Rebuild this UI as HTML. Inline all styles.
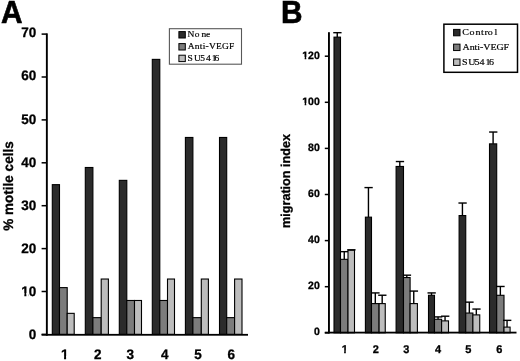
<!DOCTYPE html>
<html><head><meta charset="utf-8"><title>Figure</title>
<style>
html,body{margin:0;padding:0;background:#fff;}
body{width:520px;height:361px;overflow:hidden;}
svg{display:block;}
.ax{font-family:"Liberation Sans",Arial,sans-serif;font-weight:bold;fill:#000;stroke:#000;stroke-width:0.3px;text-rendering:geometricPrecision;}
.pl{font-family:"Liberation Sans",Arial,sans-serif;font-weight:bold;font-size:29.8px;fill:#000;stroke:#000;stroke-width:0.6px;}
.lg{font-family:"Liberation Serif","Times New Roman",serif;fill:#000;stroke:#000;stroke-width:0.2px;}
</style></head>
<body>
<svg width="520" height="361" viewBox="0 0 520 361">
<rect width="520" height="361" fill="#fff"/>
<text transform="translate(0.90,22.80) scale(1,1.03)" class="pl">A</text>
<text transform="translate(12.90,186.00) rotate(-90) scale(1,1.02)" text-anchor="middle" class="ax" font-size="13.5">% motile cells</text>
<rect x="41.6" y="333.65" width="5" height="1.5" fill="#000"/>
<text transform="translate(36.30,339.00) scale(1,1.02)" text-anchor="end" class="ax" font-size="13.5">0</text>
<rect x="41.6" y="290.75" width="5" height="1.5" fill="#000"/>
<g transform="translate(36.30,295.90) scale(1,1.02)"><text text-anchor="end" class="ax" font-size="13.5">10</text><rect x="-15.82" y="-2.83" width="3.86" height="4.59" fill="#fff"/><rect x="-9.91" y="-2.83" width="2.25" height="4.59" fill="#fff"/></g>
<rect x="41.6" y="247.85" width="5" height="1.5" fill="#000"/>
<text transform="translate(36.30,252.80) scale(1,1.02)" text-anchor="end" class="ax" font-size="13.5">20</text>
<rect x="41.6" y="204.95" width="5" height="1.5" fill="#000"/>
<text transform="translate(36.30,209.70) scale(1,1.02)" text-anchor="end" class="ax" font-size="13.5">30</text>
<rect x="41.6" y="162.05" width="5" height="1.5" fill="#000"/>
<text transform="translate(36.30,166.60) scale(1,1.02)" text-anchor="end" class="ax" font-size="13.5">40</text>
<rect x="41.6" y="119.15" width="5" height="1.5" fill="#000"/>
<text transform="translate(36.30,123.50) scale(1,1.02)" text-anchor="end" class="ax" font-size="13.5">50</text>
<rect x="41.6" y="76.25" width="5" height="1.5" fill="#000"/>
<text transform="translate(36.30,80.40) scale(1,1.02)" text-anchor="end" class="ax" font-size="13.5">60</text>
<rect x="41.6" y="33.35" width="5" height="1.5" fill="#000"/>
<text transform="translate(36.30,37.30) scale(1,1.02)" text-anchor="end" class="ax" font-size="13.5">70</text>
<rect x="52.30" y="184.65" width="7.20" height="149.75" fill="#2b2b2b" stroke="#000" stroke-width="1.1"/>
<rect x="59.50" y="287.61" width="7.70" height="46.79" fill="#7c7c7c" stroke="#000" stroke-width="1.1"/>
<rect x="67.20" y="313.35" width="7.00" height="21.05" fill="#bdbdbd" stroke="#000" stroke-width="1.1"/>
<g transform="translate(64.75,358.90) scale(1,1.02)"><text text-anchor="middle" class="ax" font-size="13.5">1</text><rect x="-4.56" y="-2.83" width="3.86" height="4.59" fill="#fff"/><rect x="1.35" y="-2.83" width="3.27" height="4.59" fill="#fff"/></g>
<rect x="85.30" y="167.49" width="7.60" height="166.91" fill="#2b2b2b" stroke="#000" stroke-width="1.1"/>
<rect x="92.90" y="317.64" width="8.30" height="16.76" fill="#7c7c7c" stroke="#000" stroke-width="1.1"/>
<rect x="101.20" y="279.03" width="7.20" height="55.37" fill="#bdbdbd" stroke="#000" stroke-width="1.1"/>
<text transform="translate(97.75,358.90) scale(1,1.02)" text-anchor="middle" class="ax" font-size="13.5">2</text>
<rect x="119.30" y="180.36" width="7.50" height="154.04" fill="#2b2b2b" stroke="#000" stroke-width="1.1"/>
<rect x="126.80" y="300.48" width="7.70" height="33.92" fill="#7c7c7c" stroke="#000" stroke-width="1.1"/>
<rect x="134.50" y="300.48" width="7.00" height="33.92" fill="#bdbdbd" stroke="#000" stroke-width="1.1"/>
<text transform="translate(130.30,358.90) scale(1,1.02)" text-anchor="middle" class="ax" font-size="13.5">3</text>
<rect x="152.30" y="59.38" width="7.50" height="275.02" fill="#2b2b2b" stroke="#000" stroke-width="1.1"/>
<rect x="159.80" y="300.48" width="7.70" height="33.92" fill="#7c7c7c" stroke="#000" stroke-width="1.1"/>
<rect x="167.50" y="279.03" width="7.00" height="55.37" fill="#bdbdbd" stroke="#000" stroke-width="1.1"/>
<text transform="translate(164.80,358.90) scale(1,1.02)" text-anchor="middle" class="ax" font-size="13.5">4</text>
<rect x="185.40" y="137.46" width="7.50" height="196.94" fill="#2b2b2b" stroke="#000" stroke-width="1.1"/>
<rect x="192.90" y="317.64" width="8.40" height="16.76" fill="#7c7c7c" stroke="#000" stroke-width="1.1"/>
<rect x="201.30" y="279.03" width="7.10" height="55.37" fill="#bdbdbd" stroke="#000" stroke-width="1.1"/>
<text transform="translate(198.05,358.90) scale(1,1.02)" text-anchor="middle" class="ax" font-size="13.5">5</text>
<rect x="219.50" y="137.46" width="7.20" height="196.94" fill="#2b2b2b" stroke="#000" stroke-width="1.1"/>
<rect x="226.70" y="317.64" width="7.90" height="16.76" fill="#7c7c7c" stroke="#000" stroke-width="1.1"/>
<rect x="234.60" y="279.03" width="7.40" height="55.37" fill="#bdbdbd" stroke="#000" stroke-width="1.1"/>
<text transform="translate(231.25,358.90) scale(1,1.02)" text-anchor="middle" class="ax" font-size="13.5">6</text>
<rect x="45.9" y="33.35" width="1.9" height="302.35" fill="#000"/>
<rect x="41.6" y="333.9" width="206.4" height="1.8" fill="#000"/>
<rect x="169.4" y="28.7" width="72.1" height="35.5" fill="#fff" stroke="#585858" stroke-width="1.1"/>
<rect x="178.9" y="31.60" width="6.4" height="6.4" fill="#2b2b2b" stroke="#000" stroke-width="1"/>
<text transform="translate(187.60,37.00) scale(1,0.915)" class="lg" font-size="9.5" x="0.00 7.20 13.80 18.50">None</text>
<rect x="178.9" y="43.60" width="6.4" height="6.4" fill="#7c7c7c" stroke="#000" stroke-width="1"/>
<text transform="translate(187.70,49.00) scale(1,0.915)" class="lg" font-size="9.5" textLength="46.7" lengthAdjust="spacing">Anti-VEGF</text>
<rect x="178.9" y="55.20" width="6.4" height="6.4" fill="#bdbdbd" stroke="#000" stroke-width="1"/>
<text transform="translate(187.50,60.60) scale(1,0.915)" class="lg" font-size="9.5" x="0.00 6.60 12.80 18.40 24.20 27.00">SU5416</text>
<text transform="translate(281.10,22.80) scale(1,1.03)" class="pl">B</text>
<text transform="translate(290.30,181.00) rotate(-90) scale(1,1.02)" text-anchor="middle" class="ax" font-size="12.6">migration index</text>
<rect x="324.8" y="332.05" width="4" height="1.5" fill="#000"/>
<text transform="translate(319.80,335.20) scale(1,1.02)" text-anchor="end" class="ax" font-size="10.5">0</text>
<rect x="324.8" y="285.95" width="4" height="1.5" fill="#000"/>
<text transform="translate(319.80,289.20) scale(1,1.02)" text-anchor="end" class="ax" font-size="10.5">20</text>
<rect x="324.8" y="239.85" width="4" height="1.5" fill="#000"/>
<text transform="translate(319.80,243.20) scale(1,1.02)" text-anchor="end" class="ax" font-size="10.5">40</text>
<rect x="324.8" y="193.75" width="4" height="1.5" fill="#000"/>
<text transform="translate(319.80,197.20) scale(1,1.02)" text-anchor="end" class="ax" font-size="10.5">60</text>
<rect x="324.8" y="147.65" width="4" height="1.5" fill="#000"/>
<text transform="translate(319.80,151.20) scale(1,1.02)" text-anchor="end" class="ax" font-size="10.5">80</text>
<rect x="324.8" y="101.55" width="4" height="1.5" fill="#000"/>
<g transform="translate(319.80,105.20) scale(1,1.02)"><text text-anchor="end" class="ax" font-size="10.5">100</text><rect x="-18.14" y="-2.21" width="3.00" height="3.57" fill="#fff"/><rect x="-13.55" y="-2.21" width="1.75" height="3.57" fill="#fff"/></g>
<rect x="324.8" y="55.45" width="4" height="1.5" fill="#000"/>
<g transform="translate(319.80,59.20) scale(1,1.02)"><text text-anchor="end" class="ax" font-size="10.5">120</text><rect x="-18.14" y="-2.21" width="3.00" height="3.57" fill="#fff"/><rect x="-13.55" y="-2.21" width="1.75" height="3.57" fill="#fff"/></g>
<rect x="334.00" y="37.14" width="6.50" height="295.66" fill="#2b2b2b" stroke="#000" stroke-width="1.1"/>
<rect x="336.55" y="32.69" width="1.4" height="4.45" fill="#000"/>
<rect x="333.25" y="31.99" width="8.3" height="1.4" fill="#000"/>
<rect x="340.50" y="259.34" width="7.50" height="73.46" fill="#7c7c7c" stroke="#000" stroke-width="1.1"/>
<rect x="343.55" y="251.66" width="1.4" height="7.68" fill="#000"/>
<rect x="340.25" y="250.96" width="8.3" height="1.4" fill="#000"/>
<rect x="348.00" y="250.12" width="6.50" height="82.68" fill="#bdbdbd" stroke="#000" stroke-width="1.1"/>
<rect x="347.25" y="249.12" width="8.3" height="1.4" fill="#000"/>
<g transform="translate(344.70,352.80) scale(1,1.02)"><text text-anchor="middle" class="ax" font-size="11">1</text><rect x="-3.72" y="-2.31" width="3.15" height="3.74" fill="#fff"/><rect x="1.10" y="-2.31" width="2.66" height="3.74" fill="#fff"/></g>
<rect x="365.40" y="217.16" width="6.10" height="115.64" fill="#2b2b2b" stroke="#000" stroke-width="1.1"/>
<rect x="367.75" y="187.59" width="1.4" height="29.57" fill="#000"/>
<rect x="364.45" y="186.89" width="8.3" height="1.4" fill="#000"/>
<rect x="371.50" y="303.60" width="7.60" height="29.20" fill="#7c7c7c" stroke="#000" stroke-width="1.1"/>
<rect x="374.60" y="292.92" width="1.4" height="10.67" fill="#000"/>
<rect x="371.30" y="292.22" width="8.3" height="1.4" fill="#000"/>
<rect x="379.10" y="303.60" width="6.15" height="29.20" fill="#bdbdbd" stroke="#000" stroke-width="1.1"/>
<rect x="381.48" y="295.23" width="1.4" height="8.37" fill="#000"/>
<rect x="378.18" y="294.53" width="8.3" height="1.4" fill="#000"/>
<text transform="translate(375.90,352.80) scale(1,1.02)" text-anchor="middle" class="ax" font-size="11">2</text>
<rect x="396.10" y="166.45" width="7.40" height="166.35" fill="#2b2b2b" stroke="#000" stroke-width="1.1"/>
<rect x="399.10" y="161.54" width="1.4" height="4.91" fill="#000"/>
<rect x="395.80" y="160.84" width="8.3" height="1.4" fill="#000"/>
<rect x="403.50" y="277.55" width="6.60" height="55.25" fill="#7c7c7c" stroke="#000" stroke-width="1.1"/>
<rect x="406.10" y="275.18" width="1.4" height="2.37" fill="#000"/>
<rect x="402.80" y="274.48" width="8.3" height="1.4" fill="#000"/>
<rect x="410.10" y="303.60" width="7.30" height="29.20" fill="#bdbdbd" stroke="#000" stroke-width="1.1"/>
<rect x="413.05" y="291.08" width="1.4" height="12.52" fill="#000"/>
<rect x="409.75" y="290.38" width="8.3" height="1.4" fill="#000"/>
<text transform="translate(406.20,352.80) scale(1,1.02)" text-anchor="middle" class="ax" font-size="11">3</text>
<rect x="428.50" y="295.30" width="6.00" height="37.50" fill="#2b2b2b" stroke="#000" stroke-width="1.1"/>
<rect x="430.80" y="292.92" width="1.4" height="2.37" fill="#000"/>
<rect x="427.50" y="292.22" width="8.3" height="1.4" fill="#000"/>
<rect x="434.50" y="319.27" width="7.10" height="13.53" fill="#7c7c7c" stroke="#000" stroke-width="1.1"/>
<rect x="437.35" y="316.90" width="1.4" height="2.37" fill="#000"/>
<rect x="434.05" y="316.20" width="8.3" height="1.4" fill="#000"/>
<rect x="441.60" y="320.88" width="6.90" height="11.92" fill="#bdbdbd" stroke="#000" stroke-width="1.1"/>
<rect x="444.35" y="316.20" width="1.4" height="4.68" fill="#000"/>
<rect x="441.05" y="315.50" width="8.3" height="1.4" fill="#000"/>
<text transform="translate(438.10,352.80) scale(1,1.02)" text-anchor="middle" class="ax" font-size="11">4</text>
<rect x="459.10" y="215.55" width="6.65" height="117.25" fill="#2b2b2b" stroke="#000" stroke-width="1.1"/>
<rect x="461.73" y="203.03" width="1.4" height="12.52" fill="#000"/>
<rect x="458.43" y="202.33" width="8.3" height="1.4" fill="#000"/>
<rect x="465.75" y="313.05" width="7.15" height="19.75" fill="#7c7c7c" stroke="#000" stroke-width="1.1"/>
<rect x="468.62" y="302.14" width="1.4" height="10.90" fill="#000"/>
<rect x="465.32" y="301.44" width="8.3" height="1.4" fill="#000"/>
<rect x="472.90" y="314.89" width="6.85" height="17.91" fill="#bdbdbd" stroke="#000" stroke-width="1.1"/>
<rect x="475.62" y="309.06" width="1.4" height="5.83" fill="#000"/>
<rect x="472.32" y="308.36" width="8.3" height="1.4" fill="#000"/>
<text transform="translate(468.40,352.80) scale(1,1.02)" text-anchor="middle" class="ax" font-size="11">5</text>
<rect x="489.50" y="143.86" width="7.20" height="188.94" fill="#2b2b2b" stroke="#000" stroke-width="1.1"/>
<rect x="492.40" y="132.03" width="1.4" height="11.83" fill="#000"/>
<rect x="489.10" y="131.33" width="8.3" height="1.4" fill="#000"/>
<rect x="496.70" y="295.30" width="7.30" height="37.50" fill="#7c7c7c" stroke="#000" stroke-width="1.1"/>
<rect x="499.65" y="286.47" width="1.4" height="8.83" fill="#000"/>
<rect x="496.35" y="285.77" width="8.3" height="1.4" fill="#000"/>
<rect x="504.00" y="327.11" width="6.10" height="5.69" fill="#bdbdbd" stroke="#000" stroke-width="1.1"/>
<rect x="506.35" y="320.35" width="1.4" height="6.75" fill="#000"/>
<rect x="503.05" y="319.65" width="8.3" height="1.4" fill="#000"/>
<text transform="translate(499.20,352.80) scale(1,1.02)" text-anchor="middle" class="ax" font-size="11">6</text>
<rect x="328" y="32.2" width="1.9" height="301.30" fill="#000"/>
<rect x="324.8" y="331.7" width="191.7" height="1.8" fill="#000"/>
<rect x="443.9" y="24.2" width="73.6" height="48.1" fill="#fff" stroke="#000" stroke-width="1.5"/>
<rect x="453.6" y="29.40" width="6.4" height="6.4" fill="#2b2b2b" stroke="#000" stroke-width="1"/>
<text transform="translate(462.30,35.00) scale(1,0.92)" class="lg" font-size="10" x="0.00 7.30 13.30 18.80 22.10 25.40 32.10">Control</text>
<rect x="453.6" y="44.15" width="6.4" height="6.4" fill="#7c7c7c" stroke="#000" stroke-width="1"/>
<text transform="translate(462.60,49.75) scale(1,0.92)" class="lg" font-size="10" textLength="46.5" lengthAdjust="spacing">Anti-VEGF</text>
<rect x="453.6" y="59.00" width="6.4" height="6.4" fill="#bdbdbd" stroke="#000" stroke-width="1"/>
<text transform="translate(462.00,64.60) scale(1,0.92)" class="lg" font-size="10" x="0.00 6.30 12.40 17.40 23.40 26.90">SU5416</text>
</svg>
</body></html>
